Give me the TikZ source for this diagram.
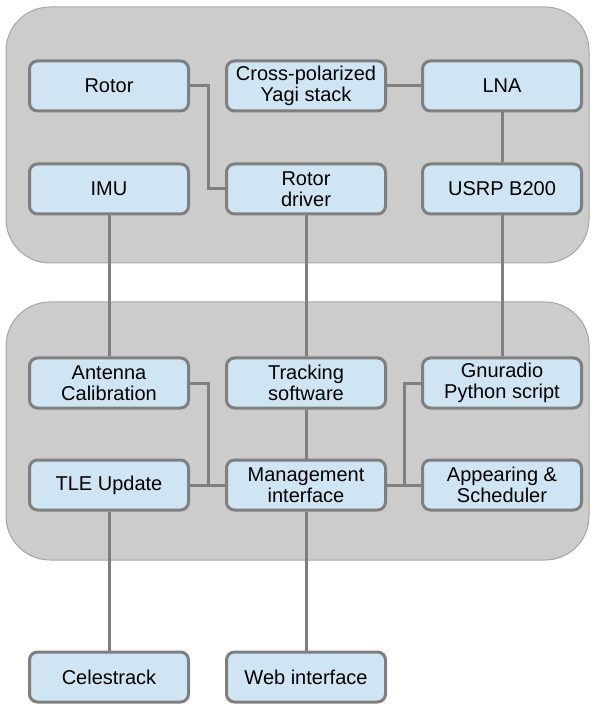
\documentclass[tikz,border=0pt]{standalone}
\usepackage{fontspec}
\setmainfont{Liberation Sans}
\definecolor{boxfill}{HTML}{CFE5F3}
\definecolor{boxline}{HTML}{7F7F7F}
\definecolor{groupfill}{HTML}{CCCCCC}
\definecolor{groupline}{HTML}{A6A6A6}
\begin{document}
\begin{tikzpicture}[x=0.5pt,y=-0.5pt,
	blockbox/.style={draw=boxline, fill=boxfill, line width=1.5pt, rounded corners=4pt,
		minimum width=79.5pt, minimum height=25pt, inner sep=0pt, align=center,
		font=\fontsize{10}{10.5}\selectfont},
	groupbox/.style={draw=groupline, fill=groupfill, line width=0.5pt, rounded corners=22pt},
	wire/.style={draw=boxline, line width=1.5pt}]
	
	\useasboundingbox (0,0) rectangle (591,704);
	
	\draw [groupbox](6,7) rectangle (589,263);
	\draw [groupbox](6,302) rectangle (589,560);
	
	\node [blockbox] (rotor) at (109,86) {Rotor};
	\node [blockbox] (yagi) at (306,86) {Cross-polarized\\Yagi stack};
	\node [blockbox] (lna) at (502,86) {LNA};
	\node [blockbox] (imu) at (109,189) {IMU};
	\node [blockbox] (rotordrv) at (306,189) {Rotor\\driver};
	\node [blockbox] (usrp) at (502,189) {USRP B200};
	
	\node [blockbox] (calib) at (109,383) {Antenna\\Calibration};
	\node [blockbox] (tracking) at (306,383) {Tracking\\software};
	\node [blockbox] (gnuradio) at (502,383) {Gnuradio\\Python script};
	\node [blockbox] (tle) at (109,485) {TLE Update};
	\node [blockbox] (mgmt) at (306,485) {Management\\interface};
	\node [blockbox] (sched) at (502,485) {Appearing \&\\Scheduler};
	
	\node [blockbox] (celestrack) at (109,677) {Celestrack};
	\node [blockbox] (web) at (306,677) {Web interface};
	
	\draw [wire](rotor.east)--++(18,0)|-(rotordrv.west);
	\draw [wire](yagi)--(lna);
	\draw [wire](lna)--(usrp);
	\draw [wire](imu)--(calib);
	\draw [wire](rotordrv)--(tracking);
	\draw [wire](usrp)--(gnuradio);
	\draw [wire](calib.east)--++(18,0)|-(mgmt.west);
	\draw [wire](tle)--(mgmt);
	\draw [wire](tracking)--(mgmt);
	\draw [wire](mgmt.east)--++(17,0)|-(gnuradio.west);
	\draw [wire](mgmt)--(sched);
	\draw [wire](tle)--(celestrack);
	\draw [wire](mgmt)--(web);
	
\end{tikzpicture}
\end{document}
